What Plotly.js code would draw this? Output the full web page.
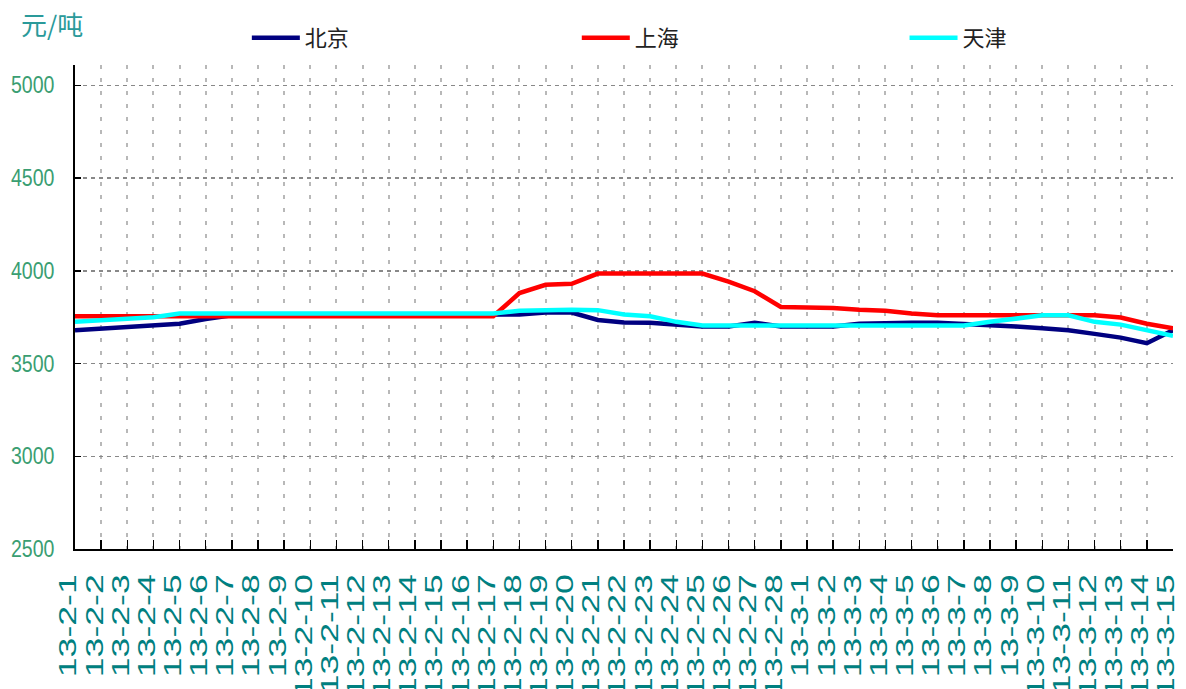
<!DOCTYPE html>
<html>
<head>
<meta charset="utf-8">
<script src="https://cdn.plot.ly/plotly-3.0.1.min.js"></script>
<style>
html,body{margin:0;padding:0;background:#fff;}
#chart{width:1186px;height:689px;}
</style>
</head>
<body>
<div id="chart"></div>
<script>
const categories = [
  "13-2-1","13-2-2","13-2-3","13-2-4","13-2-5","13-2-6","13-2-7","13-2-8","13-2-9","13-2-10",
  "13-2-11","13-2-12","13-2-13","13-2-14","13-2-15","13-2-16","13-2-17","13-2-18","13-2-19","13-2-20",
  "13-2-21","13-2-22","13-2-23","13-2-24","13-2-25","13-2-26","13-2-27","13-2-28",
  "13-3-1","13-3-2","13-3-3","13-3-4","13-3-5","13-3-6","13-3-7","13-3-8","13-3-9","13-3-10",
  "13-3-11","13-3-12","13-3-13","13-3-14","13-3-15"
];
const beijing = [
  3680,3690,3700,3705,3715,3740,3760,3760,3760,3760,
  3760,3760,3760,3760,3760,3760,3760,3765,3775,3775,
  3735,3722,3720,3712,3700,3700,3720,3700,
  3700,3700,3715,3720,3720,3720,3715,3705,3700,3690,
  3680,3660,3640,3610,3680
];
const shanghai = [
  3755,3755,3755,3755,3755,3755,3755,3755,3755,3755,
  3755,3755,3755,3755,3755,3755,3755,3880,3925,3930,
  3985,3985,3985,3985,3985,3942,3890,3805,
  3805,3800,3790,3785,3770,3760,3760,3760,3760,3760,
  3760,3760,3748,3715,3690
];
const tianjin = [
  3725,3735,3745,3750,3770,3770,3770,3770,3770,3770,
  3770,3770,3770,3770,3770,3770,3770,3785,3790,3790,
  3788,3765,3755,3725,3705,3705,3705,3705,
  3705,3705,3705,3705,3705,3705,3705,3725,3745,3760,
  3760,3725,3710,3680,3650
];
const seriesNames = ["北京","上海","天津"];
const seriesColors = ["#000080","#ff0000","#00ffff"];
const yTicks = [2500,3000,3500,4000,4500,5000];
const unitLabel = "元/吨";

const legendIds = ["legend","legend2","legend3"];
const legendX = [0.1565, 0.457, 0.7555];

const allSeries = [beijing, shanghai, tianjin];
const traces = allSeries.map((vals, k) => ({
  type: "scatter",
  mode: "lines",
  name: seriesNames[k],
  legend: legendIds[k],
  x: categories,
  y: vals,
  line: {color: seriesColors[k], width: 4.5},
  hoverinfo: "x+y+name"
}));

function legendBox(x) {
  return {
    orientation: "h",
    x: x, y: 1.056, xanchor: "left", yanchor: "middle",
    itemwidth: 48,
    font: {family: "Noto Sans CJK SC, sans-serif", size: 22, color: "#222"},
    bgcolor: "rgba(0,0,0,0)"
  };
}

const layout = {
  width: 1186,
  height: 689,
  margin: {l: 75, r: 13, t: 65, b: 140, pad: 0, autoexpand: false},
  paper_bgcolor: "#ffffff",
  plot_bgcolor: "#ffffff",
  showlegend: true,
  legend: legendBox(legendX[0]),
  legend2: legendBox(legendX[1]),
  legend3: legendBox(legendX[2]),
  xaxis: {
    type: "category",
    categoryorder: "array",
    categoryarray: categories,
    range: [0, categories.length - 1],
    tickmode: "linear", tick0: 0, dtick: 1,
    tickangle: -90,
    ticks: "inside", ticklen: 9, tickwidth: 1.5, tickcolor: "#000",
    showline: true, linecolor: "#000", linewidth: 2,
    showgrid: true, gridcolor: "#b8b8b8", gridwidth: 2, griddash: "4px,9px",
    zeroline: false,
    ticklabelstandoff: 14,
    ticklabelshift: -6,
    tickfont: {family: "Liberation Sans, Arial, sans-serif", size: 23, color: "#008080"},
    automargin: false,
    fixedrange: true
  },
  yaxis: {
    range: [2500, 5110],
    tickmode: "array",
    tickvals: yTicks,
    ticktext: yTicks.map(String),
    ticks: "inside", ticklen: 6, tickwidth: 1.5, tickcolor: "#000",
    showline: true, linecolor: "#000", linewidth: 2,
    showgrid: true, gridcolor: "#888888", gridwidth: 1.5, griddash: "4px,4px",
    zeroline: false,
    ticklabelstandoff: 14,
    tickfont: {family: "Liberation Sans, Arial, sans-serif", size: 23, color: "#3a9e72"},
    automargin: false,
    fixedrange: true
  },
  annotations: [{
    xref: "paper", yref: "paper",
    x: -0.021, y: 1.086,
    xanchor: "center", yanchor: "middle",
    text: unitLabel,
    showarrow: false,
    font: {family: "Noto Sans CJK SC, sans-serif", size: 26, color: "#2a9a9a"}
  }]
};

function stretch(sel, sx) {
  document.querySelectorAll(sel).forEach(function (t) {
    const x = parseFloat(t.getAttribute("x")) || 0;
    const y = parseFloat(t.getAttribute("y")) || 0;
    const tr = t.getAttribute("transform") || "";
    t.setAttribute("transform", tr + " translate(" + x + "," + y + ") scale(" + sx + ",1) translate(" + (-x) + "," + (-y) + ")");
  });
}

Plotly.newPlot("chart", traces, layout, {displayModeBar: false, staticPlot: true}).then(function () {
  stretch("#chart .xtick text", 1.55);
  stretch("#chart .ytick text", 0.85);
});
</script>
</body>
</html>
